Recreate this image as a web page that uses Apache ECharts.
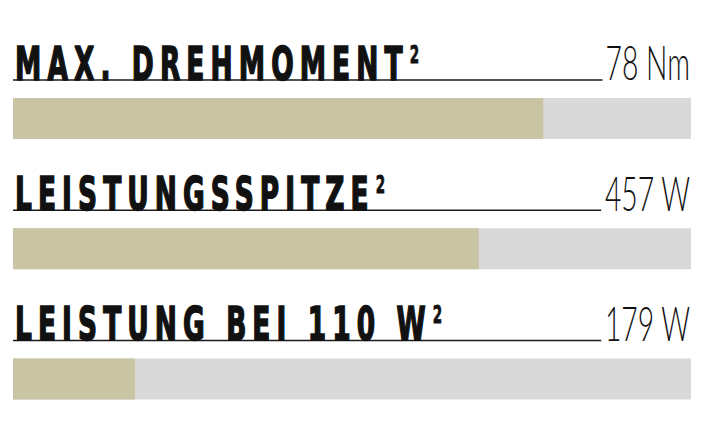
<!DOCTYPE html>
<html>
<head>
<meta charset="utf-8">
<script src="https://cdn.jsdelivr.net/npm/echarts@6/dist/echarts.min.js"></script>
<style>
  html, body { margin: 0; padding: 0; background: #fff; }
  #chart { width: 712px; height: 444px; }
</style>
<style id="spacing"></style>
</head>
<body>
<div id="chart"></div>
<script>
// data
const titles = ['MAX. DREHMOMENT', 'LEISTUNGSSPITZE', 'LEISTUNG BEI 110 W'];
const footnotes = ['2', '2', '2'];
const valueLabels = ['78 Nm', '457 W', '179 W'];
const fillPercent = [78.2, 68.7, 18];

// text styling
const titleFont = 'bold 47px "Liberation Sans Narrow", "DejaVu Sans Condensed", sans-serif';
const supFont = 'bold 24px "Liberation Sans Narrow", "DejaVu Sans Condensed", sans-serif';
const valueFont = '300 48px Lato, Roboto, sans-serif';
const titleScale = 0.625;
const valueScale = 0.59;
const titleSpacing = 6.1; // px on screen between letters

// letter spacing for the (left aligned) titles, values are right aligned
document.getElementById('spacing').textContent =
  '#chart text { letter-spacing: ' + (titleSpacing / titleScale) + 'px; }' +
  '#chart text[text-anchor="end"] { letter-spacing: 0; }';

const measureCtx = document.createElement('canvas').getContext('2d');
function textWidth(str, font) {
  measureCtx.font = font;
  return measureCtx.measureText(str).width;
}

function renderItem(params, api) {
  const i = params.dataIndex;
  const start = api.coord([0, i]);
  const end = api.coord([api.value(0), i]);
  const full = api.coord([100, i]);
  const cy = start[1];
  const barH = 41;

  const title = titles[i];
  const titleX = start[0] + 2;
  const titleW = textWidth(title, titleFont) * titleScale + title.length * titleSpacing;
  const valueW = textWidth(valueLabels[i], valueFont) * valueScale;
  const valueX = full[0] - 1;

  return {
    type: 'group',
    children: [
      {
        type: 'rect',
        shape: { x: start[0], y: cy - barH / 2, width: full[0] - start[0], height: barH },
        style: { fill: '#d9d9d9' }
      },
      {
        type: 'rect',
        shape: { x: start[0], y: cy - barH / 2, width: end[0] - start[0], height: barH },
        style: { fill: '#c8c4a4' }
      },
      {
        type: 'line',
        shape: { x1: start[0], y1: cy - 38.5, x2: valueX - valueW - 3, y2: cy - 38.5 },
        style: { stroke: '#1a1a1a', lineWidth: 1.5 }
      },
      {
        type: 'text',
        x: titleX,
        y: cy - 55,
        scaleX: titleScale,
        style: {
          text: title, font: titleFont, fill: '#111', stroke: '#111', lineWidth: 1.6,
          align: 'left', verticalAlign: 'middle'
        }
      },
      {
        type: 'text',
        x: titleX + titleW + 1,
        y: cy - 64,
        scaleX: titleScale,
        style: {
          text: footnotes[i], font: supFont, fill: '#111', stroke: '#111', lineWidth: 0.8,
          align: 'left', verticalAlign: 'middle'
        }
      },
      {
        type: 'text',
        x: valueX,
        y: cy - 57,
        scaleX: valueScale,
        style: { text: valueLabels[i], font: valueFont, fill: '#111', align: 'right', verticalAlign: 'middle' }
      }
    ]
  };
}

const chart = echarts.init(document.getElementById('chart'), null, { renderer: 'svg' });
chart.setOption({
  animation: false,
  grid: { left: 13, right: 21, top: 53.5, height: 402 },
  xAxis: { type: 'value', min: 0, max: 100, show: false },
  yAxis: { type: 'category', data: titles, inverse: true, show: false },
  series: [
    {
      type: 'custom',
      renderItem: renderItem,
      encode: { x: 0, y: 1 },
      data: fillPercent.map((v, i) => [v, i])
    }
  ]
});
</script>
</body>
</html>
